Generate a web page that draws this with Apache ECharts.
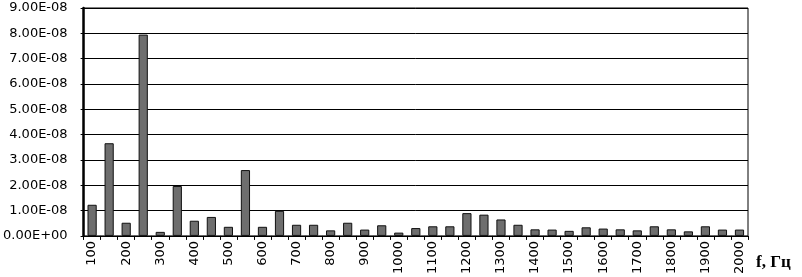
<!DOCTYPE html>
<html><head><meta charset="utf-8">
<script src="https://cdn.jsdelivr.net/npm/echarts@6/dist/echarts.min.js"></script>
<style>html,body{margin:0;padding:0;background:#fff}#c{width:802px;height:277px}</style>
</head><body><div id="c"></div>
<script>
const categories = [100,150,200,250,300,350,400,450,500,550,600,650,700,750,800,850,900,950,1000,1050,1100,1150,1200,1250,1300,1350,1400,1450,1500,1550,1600,1650,1700,1750,1800,1850,1900,1950,2000];
const values = [1.23e-8,3.66e-8,0.52e-8,7.95e-8,0.16e-8,1.97e-8,0.6e-8,0.75e-8,0.36e-8,2.6e-8,0.36e-8,0.99e-8,0.44e-8,0.44e-8,0.22e-8,0.52e-8,0.25e-8,0.42e-8,0.13e-8,0.31e-8,0.38e-8,0.38e-8,0.9e-8,0.84e-8,0.65e-8,0.44e-8,0.26e-8,0.25e-8,0.2e-8,0.34e-8,0.29e-8,0.26e-8,0.22e-8,0.38e-8,0.26e-8,0.18e-8,0.38e-8,0.25e-8,0.25e-8];
const xTitle = 'f, Гц';

function fmt(v){
  let s = Number(v).toExponential(2);
  let m = s.match(/^(-?[\d.]+)e([+-])(\d+)$/);
  let e = m[3].length < 2 ? '0' + m[3] : m[3];
  return m[1] + 'E' + m[2] + e;
}
const chart = echarts.init(document.getElementById('c'), null, {renderer:'canvas'});
chart.setOption({
  animation:false,
  grid:{left:83,right:54,top:8,bottom:40,show:true,borderColor:'#000',borderWidth:1},
  xAxis:{
    type:'category', data:categories.map(String),
    axisLine:{lineStyle:{color:'#000',width:1}},
    axisTick:{show:true,alignWithLabel:false,interval:0,length:4,lineStyle:{color:'#000'}},
    axisLabel:{interval:1,rotate:90,color:'#000',fontFamily:'DejaVu Sans',fontSize:13,margin:5},
    name:xTitle, nameLocation:'end', nameGap:8,
    nameTextStyle:{fontFamily:'Liberation Serif',fontWeight:'bold',fontSize:17,color:'#000',verticalAlign:'top',padding:[18,0,0,0]}
  },
  yAxis:{
    type:'value', min:0, max:9e-8, interval:1e-8,
    axisLine:{show:true,lineStyle:{color:'#000',width:2.5}},
    axisTick:{show:true,length:3,lineStyle:{color:'#000'}},
    axisLabel:{formatter:fmt,color:'#000',fontFamily:'DejaVu Sans',fontSize:13,margin:16},
    splitLine:{show:true,lineStyle:{color:'#000',width:1}}
  },
  series:[{
    type:'bar', data:values, barCategoryGap:'46%',
    itemStyle:{color:'#6e6e6e',borderColor:'#111',borderWidth:1}
  }]
});
</script></body></html>
